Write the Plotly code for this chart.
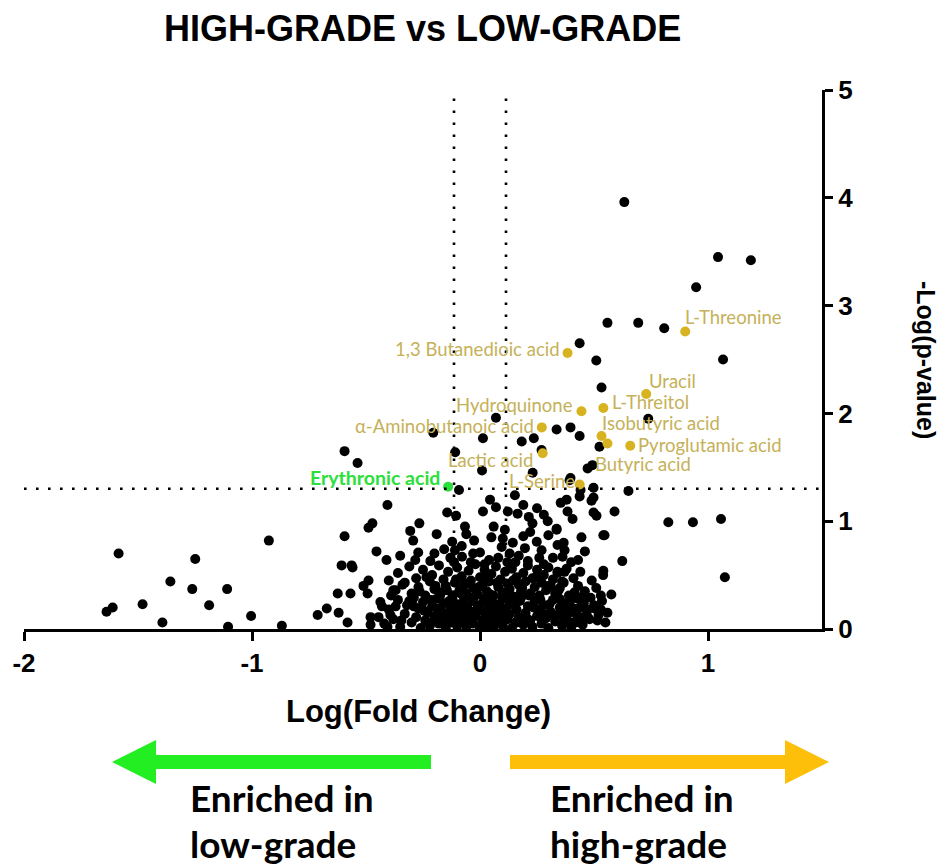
import plotly.graph_objects as go

# ---- data -----------------------------------------------------------------
# Sparse low-grade tail (log fold change, -log p)
left_tail = [(-1.585, 0.70), (-1.249, 0.65), (-0.926, 0.82), (-1.358, 0.44), (-1.262, 0.37),
             (-1.109, 0.37), (-1.611, 0.20), (-1.638, 0.16), (-1.480, 0.23), (-1.188, 0.22),
             (-1.393, 0.06), (-1.004, 0.12), (-1.105, 0.02), (-0.869, 0.03)]

# Left flank of the main cloud
left_flank = [(-0.406, 1.15), (-0.472, 0.98), (-0.489, 0.94), (-0.594, 0.86), (-0.454, 0.72),
              (-0.410, 0.64), (-0.607, 0.59), (-0.563, 0.59), (-0.559, 0.57), (-0.489, 0.45),
              (-0.511, 0.40), (-0.493, 0.33), (-0.624, 0.33), (-0.568, 0.33), (-0.437, 0.25),
              (-0.430, 0.21), (-0.672, 0.19), (-0.712, 0.13), (-0.620, 0.15), (-0.581, 0.06),
              (-0.480, 0.11), (-0.445, 0.11), (-0.393, 0.13), (-0.480, 0.04), (-0.406, 0.02),
              (-0.380, 0.36)]

# Main cloud, bottom band
core_low = [(-0.42, 0.05), (-0.40, 0.18), (-0.38, 0.09), (-0.36, 0.27), (-0.35, 0.02), (-0.33, 0.14),
            (-0.32, 0.22), (-0.30, 0.06), (-0.29, 0.29), (-0.28, 0.11), (-0.27, 0.19), (-0.26, 0.01),
            (-0.25, 0.25), (-0.24, 0.08), (-0.23, 0.15), (-0.22, 0.03), (-0.21, 0.21), (-0.20, 0.12),
            (-0.19, 0.28), (-0.18, 0.05), (-0.17, 0.17), (-0.16, 0.24), (-0.155, 0.09), (-0.15, 0.01),
            (-0.14, 0.14), (-0.13, 0.20), (-0.125, 0.06), (-0.12, 0.27), (-0.11, 0.11), (-0.10, 0.03),
            (-0.095, 0.18), (-0.09, 0.23), (-0.08, 0.08), (-0.075, 0.14), (-0.07, 0.29), (-0.06, 0.02),
            (-0.055, 0.20), (-0.05, 0.10), (-0.04, 0.16), (-0.035, 0.26), (-0.03, 0.05), (-0.02, 0.12),
            (-0.01, 0.22), (0.00, 0.01), (0.005, 0.17), (0.01, 0.08), (0.02, 0.28), (0.025, 0.13),
            (0.03, 0.04), (0.04, 0.21), (0.05, 0.10), (0.055, 0.25), (0.06, 0.02), (0.07, 0.16),
            (0.08, 0.07), (0.085, 0.23), (0.09, 0.12), (0.10, 0.03), (0.11, 0.19), (0.115, 0.28),
            (0.12, 0.09), (0.13, 0.14), (0.14, 0.01), (0.15, 0.24), (0.155, 0.06), (0.16, 0.18),
            (0.17, 0.11), (0.18, 0.29), (0.19, 0.04), (0.20, 0.15), (0.21, 0.21), (0.22, 0.08),
            (0.23, 0.02), (0.24, 0.26), (0.25, 0.12), (0.26, 0.18), (0.27, 0.05), (0.28, 0.22),
            (0.29, 0.10), (0.30, 0.01), (0.31, 0.16), (0.32, 0.27), (0.33, 0.07), (0.34, 0.13),
            (0.35, 0.20), (0.36, 0.03), (0.37, 0.24), (0.38, 0.09), (0.39, 0.15), (0.40, 0.02),
            (0.41, 0.19), (0.42, 0.06), (0.43, 0.28), (0.44, 0.11), (0.45, 0.04), (0.47, 0.17),
            (0.48, 0.09), (0.50, 0.22), (0.52, 0.13), (0.53, 0.18), (0.55, 0.06), (0.406, 0.19),
            (0.437, 0.20), (0.467, 0.18), (0.502, 0.19), (0.472, 0.11), (0.358, 0.15), (0.371, 0.08),
            (0.402, 0.06), (0.559, 0.15), (0.349, 0.28), (0.450, 0.30)]

# Main cloud, middle band
core_mid = [(-0.40, 0.45), (-0.37, 0.36), (-0.36, 0.52), (-0.34, 0.41), (-0.31, 0.58), (-0.30, 0.33),
            (-0.28, 0.47), (-0.27, 0.39), (-0.25, 0.55), (-0.24, 0.31), (-0.22, 0.44), (-0.21, 0.50),
            (-0.20, 0.37), (-0.18, 0.59), (-0.17, 0.34), (-0.16, 0.46), (-0.15, 0.40), (-0.14, 0.53),
            (-0.12, 0.31), (-0.11, 0.43), (-0.10, 0.57), (-0.09, 0.36), (-0.08, 0.49), (-0.07, 0.41),
            (-0.06, 0.33), (-0.05, 0.54), (-0.04, 0.45), (-0.03, 0.38), (-0.02, 0.60), (-0.01, 0.32),
            (0.00, 0.48), (0.01, 0.40), (0.02, 0.55), (0.03, 0.35), (0.04, 0.44), (0.05, 0.51),
            (0.06, 0.31), (0.07, 0.58), (0.08, 0.39), (0.09, 0.46), (0.10, 0.34), (0.11, 0.53),
            (0.12, 0.42), (0.13, 0.37), (0.14, 0.56), (0.15, 0.30), (0.16, 0.48), (0.17, 0.41),
            (0.18, 0.35), (0.19, 0.52), (0.20, 0.44), (0.21, 0.59), (0.22, 0.33), (0.23, 0.47),
            (0.24, 0.39), (0.25, 0.55), (0.26, 0.31), (0.27, 0.43), (0.28, 0.50), (0.29, 0.36),
            (0.30, 0.57), (0.31, 0.40), (0.32, 0.46), (0.33, 0.33), (0.34, 0.52), (0.35, 0.38),
            (0.36, 0.44), (0.38, 0.56), (0.39, 0.31), (0.41, 0.47), (0.43, 0.40), (0.44, 0.53),
            (0.46, 0.35), (0.49, 0.45), (0.51, 0.38), (0.53, 0.31), (0.54, 0.50), (0.367, 0.43),
            (0.340, 0.53), (0.371, 0.53)]

# Main cloud, densest part (overlapping features)
core_dense = [(-0.33, 0.43), (-0.29, 0.21), (-0.265, 0.35), (-0.245, 0.17), (-0.235, 0.48),
              (-0.215, 0.27), (-0.205, 0.07), (-0.195, 0.40), (-0.185, 0.19), (-0.175, 0.31),
              (-0.165, 0.10), (-0.145, 0.36), (-0.135, 0.26), (-0.118, 0.16), (-0.105, 0.46),
              (-0.098, 0.08), (-0.085, 0.33), (-0.068, 0.21), (-0.058, 0.42), (-0.045, 0.06),
              (-0.025, 0.30), (-0.015, 0.17), (-0.005, 0.39), (0.015, 0.25), (0.028, 0.47),
              (0.035, 0.15), (0.045, 0.32), (0.062, 0.22), (0.075, 0.43), (0.092, 0.05),
              (0.098, 0.29), (0.105, 0.15), (0.125, 0.35), (0.135, 0.23), (0.145, 0.45),
              (0.162, 0.06), (0.175, 0.26), (0.185, 0.38), (0.205, 0.10), (0.215, 0.31),
              (0.235, 0.20), (0.245, 0.48), (0.265, 0.27), (0.275, 0.14), (0.295, 0.40),
              (0.305, 0.23), (0.325, 0.12), (0.345, 0.36), (0.375, 0.18), (0.395, 0.26),
              (0.415, 0.34), (0.425, 0.13), (0.455, 0.24), (0.485, 0.29), (0.515, 0.08),
              (0.535, 0.26), (-0.31, 0.26), (-0.345, 0.08), (-0.37, 0.21), (-0.39, 0.31),
              (-0.13, 0.66), (-0.03, 0.70), (0.04, 0.64), (0.155, 0.62), (0.26, 0.66),
              (0.28, 0.60), (-0.20, 0.70), (-0.08, 0.77), (0.10, 0.84), (0.19, 0.86)]

# Main cloud, upper band (below significance)
core_high = [(-0.293, 0.82), (-0.122, 0.81), (-0.026, 0.82), (-0.157, 0.74), (-0.110, 0.73),
             (-0.271, 0.71), (-0.284, 0.64), (-0.079, 0.67), (0.000, 0.71), (-0.114, 0.62),
             (-0.218, 0.63), (0.144, 0.80), (0.249, 0.81), (0.197, 0.75), (0.095, 0.76),
             (0.270, 0.73), (0.050, 0.85), (0.080, 0.66), (0.320, 0.66), (0.120, 0.62),
             (0.210, 0.63), (0.445, 0.85), (0.541, 0.87), (0.367, 0.80), (0.371, 0.73),
             (0.362, 0.67), (0.340, 0.78), (0.020, 0.60), (0.170, 0.68), (0.300, 0.87),
             (-0.040, 0.62), (0.400, 0.62), (-0.350, 0.68), (-0.190, 0.88), (0.060, 0.95),
             (0.220, 0.90), (-0.060, 0.88), (0.130, 0.70), (0.460, 0.72), (0.430, 0.64),
             (-0.306, 0.91), (-0.266, 0.98), (-0.144, 1.08), (-0.105, 1.05), (-0.066, 0.95),
             (0.013, 1.09), (0.044, 1.20), (0.122, 1.09), (0.153, 1.24), (0.165, 1.07),
             (0.214, 1.04), (0.230, 0.98), (0.297, 1.00), (0.354, 1.17), (0.336, 0.92),
             (0.109, 0.92), (0.380, 1.20), (0.384, 1.09), (0.406, 1.02), (0.437, 1.23),
             (0.489, 1.19), (0.498, 1.22), (0.498, 1.08), (0.511, 1.05), (0.336, 0.93),
             (0.070, 1.13), (0.250, 1.12), (0.190, 1.15), (0.280, 1.06), (-0.092, 1.29),
             (0.441, 1.29), (0.498, 1.31), (0.393, 1.38)]

# High-grade tail and significant unlabelled features
right_tail = [(0.590, 1.09), (0.826, 0.99), (0.934, 0.99), (1.057, 1.02), (0.546, 0.87),
              (0.624, 0.63), (0.541, 0.54), (1.074, 0.48), (0.576, 0.32), (0.651, 1.28),
              (0.633, 3.96), (1.044, 3.45), (1.188, 3.42), (0.948, 3.17), (0.559, 2.84),
              (0.694, 2.84), (0.808, 2.79), (1.066, 2.50), (0.437, 2.65), (0.510, 2.49),
              (0.533, 2.24), (0.738, 1.95), (0.336, 1.85), (0.397, 1.87), (0.437, 1.79),
              (0.070, 1.96), (-0.205, 1.82), (0.013, 1.77), (0.183, 1.74), (0.236, 1.77),
              (0.524, 1.69), (0.270, 1.66), (-0.109, 1.64), (0.009, 1.47), (0.231, 1.45),
              (0.472, 1.49), (0.493, 1.52), (0.397, 1.40), (-0.594, 1.65), (-0.537, 1.54)]

# Named metabolites enriched in high grade
hit_names = ["L-Threonine", "1,3 Butanedioic acid", "Uracil", "Hydroquinone", "L-Threitol",
             "α-Aminobutanoic acid", "Isobutyric acid", "Pyroglutamic acid", "Butyric acid",
             "Lactic acid", "L-Serine"]
hit_fc = [0.900, 0.384, 0.729, 0.445, 0.541, 0.271, 0.533, 0.659, 0.559, 0.275, 0.437]
hit_p = [2.76, 2.56, 2.18, 2.02, 2.05, 1.87, 1.79, 1.70, 1.72, 1.63, 1.34]
# label placement: (anchor, x shift px, y shift px)
hit_pos = [("left", -2, 14), ("right", -6, 4), ("left", 1, 13), ("right", -6, 6), ("left", 7, 6),
           ("right", -6, 1), ("left", -2, 13), ("left", 6, 1), ("left", -14, -20), ("right", -8, -7),
           ("right", -3, 4)]

# Named metabolite enriched in low grade
low_names = ["Erythronic acid"]
low_fc = [-0.140]
low_p = [1.32]

fc_cut = 0.114      # log10(1.3)
p_cut = 1.301       # -log10(0.05)

# ---- figure ---------------------------------------------------------------
W, H = 948, 867
ML, MR, MT, MB = 24, 126, 90, 238
PW, PH = W - ML - MR, H - MT - MB


def px(x, y):
    """pixel position -> paper coordinates"""
    return (x - ML) / PW, (H - MB - y) / PH


background = left_tail + left_flank + core_low + core_mid + core_dense + core_high + right_tail
bg_x = [p[0] for p in background]
bg_y = [p[1] for p in background]

HIT_DOT = "#d8b321"
HIT_TXT = "#c5b158"
LOW_CLR = "#2be03a"

fig = go.Figure()
fig.add_trace(go.Scatter(x=bg_x, y=bg_y, mode="markers",
                         marker=dict(color="black", size=10, line=dict(width=0)),
                         hoverinfo="skip", showlegend=False))
fig.add_trace(go.Scatter(x=hit_fc, y=hit_p, mode="markers", text=hit_names,
                         marker=dict(color=HIT_DOT, size=10, line=dict(width=0)),
                         showlegend=False))
fig.add_trace(go.Scatter(x=low_fc, y=low_p, mode="markers", text=low_names,
                         marker=dict(color=LOW_CLR, size=10, line=dict(width=0)),
                         showlegend=False))

dot_line = dict(color="black", width=2.6, dash="2.6px,9.4px")
for xv in (-fc_cut, fc_cut):
    fig.add_shape(type="line", xref="x", yref="y", x0=xv, x1=xv, y0=0, y1=5, line=dot_line)
fig.add_shape(type="line", xref="x", yref="y", x0=-2, x1=1.5, y0=p_cut, y1=p_cut, line=dot_line)

label_font = dict(family="Lato, Carlito, sans-serif", size=18.5, color=HIT_TXT)
for name, xv, yv, (anc, dx, dy) in zip(hit_names, hit_fc, hit_p, hit_pos):
    fig.add_annotation(x=xv, y=yv, text=name, showarrow=False, xanchor=anc, yanchor="middle",
                       xshift=dx, yshift=dy, font=label_font)
for name, xv, yv in zip(low_names, low_fc, low_p):
    fig.add_annotation(x=xv, y=yv, text="<b>" + name + "</b>", showarrow=False, xanchor="right",
                       yanchor="middle", xshift=-6, yshift=9,
                       font=dict(family="Lato, Carlito, sans-serif", size=19.5, color=LOW_CLR))

# direction arrows below the axis
def arrow_path(pts):
    s = []
    for i, (x, y) in enumerate(pts):
        a, b = px(x, y)
        s.append(("M" if i == 0 else "L") + f"{a:.5f},{b:.5f}")
    return " ".join(s) + " Z"


green_arrow = [(112, 762), (156, 740), (156, 755), (431, 755), (431, 769), (156, 769), (156, 784)]
gold_arrow = [(829, 762), (785, 740), (785, 755), (510, 755), (510, 769), (785, 769), (785, 784)]
fig.add_shape(type="path", xref="paper", yref="paper", path=arrow_path(green_arrow),
              fillcolor="#22ee22", line=dict(width=0))
fig.add_shape(type="path", xref="paper", yref="paper", path=arrow_path(gold_arrow),
              fillcolor="#fdbf0a", line=dict(width=0))

big_font = dict(family="Lato, Carlito, sans-serif", size=37, color="black")
for text, (x, y) in [("<b>Enriched in</b>", (188, 797)), ("<b>low-grade</b>", (188, 843)),
                     ("<b>Enriched in</b>", (548, 797)), ("<b>high-grade</b>", (548, 843))]:
    a, b = px(x, y)
    fig.add_annotation(x=a, y=b, xref="paper", yref="paper", text=text, showarrow=False,
                       xanchor="left", yanchor="middle", font=big_font)

arial = "Liberation Sans, Arial, sans-serif"
a, b = px(422, 29)
fig.add_annotation(x=a, y=b, xref="paper", yref="paper", text="<b>HIGH-GRADE vs LOW-GRADE</b>",
                   showarrow=False, xanchor="center", yanchor="middle",
                   font=dict(family=arial, size=36, color="black"))
a, b = px(418, 711)
fig.add_annotation(x=a, y=b, xref="paper", yref="paper", text="<b>Log(Fold Change)</b>",
                   showarrow=False, xanchor="center", yanchor="middle",
                   font=dict(family=arial, size=31, color="black"))
a, b = px(926, 360)
fig.add_annotation(x=a, y=b, xref="paper", yref="paper", text="<b>-Log(p-value)</b>",
                   showarrow=False, textangle=90, xanchor="center", yanchor="middle",
                   font=dict(family=arial, size=25, color="black"))

tick_font = dict(family=arial, size=26, color="black")
fig.update_layout(
    width=W, height=H, margin=dict(l=ML, r=MR, t=MT, b=MB),
    paper_bgcolor="white", plot_bgcolor="white", showlegend=False,
    xaxis=dict(range=[-2, 1.5], tickvals=[-2, -1, 0, 1], ticktext=["<b>-2</b>", "<b>-1</b>", "<b>0</b>", "<b>1</b>"],
               showgrid=False, zeroline=False, showline=True, linecolor="black", linewidth=3,
               ticks="outside", ticklen=9, tickwidth=3, tickcolor="black", tickfont=tick_font),
    yaxis=dict(range=[0, 5], side="right", tickvals=[0, 1, 2, 3, 4, 5],
               ticktext=["<b>0</b>", "<b>1</b>", "<b>2</b>", "<b>3</b>", "<b>4</b>", "<b>5</b>"],
               showgrid=False, zeroline=False, showline=True, linecolor="black", linewidth=3,
               ticks="outside", ticklen=8, tickwidth=3, tickcolor="black", tickfont=tick_font),
)

fig.write_html("out.html")
